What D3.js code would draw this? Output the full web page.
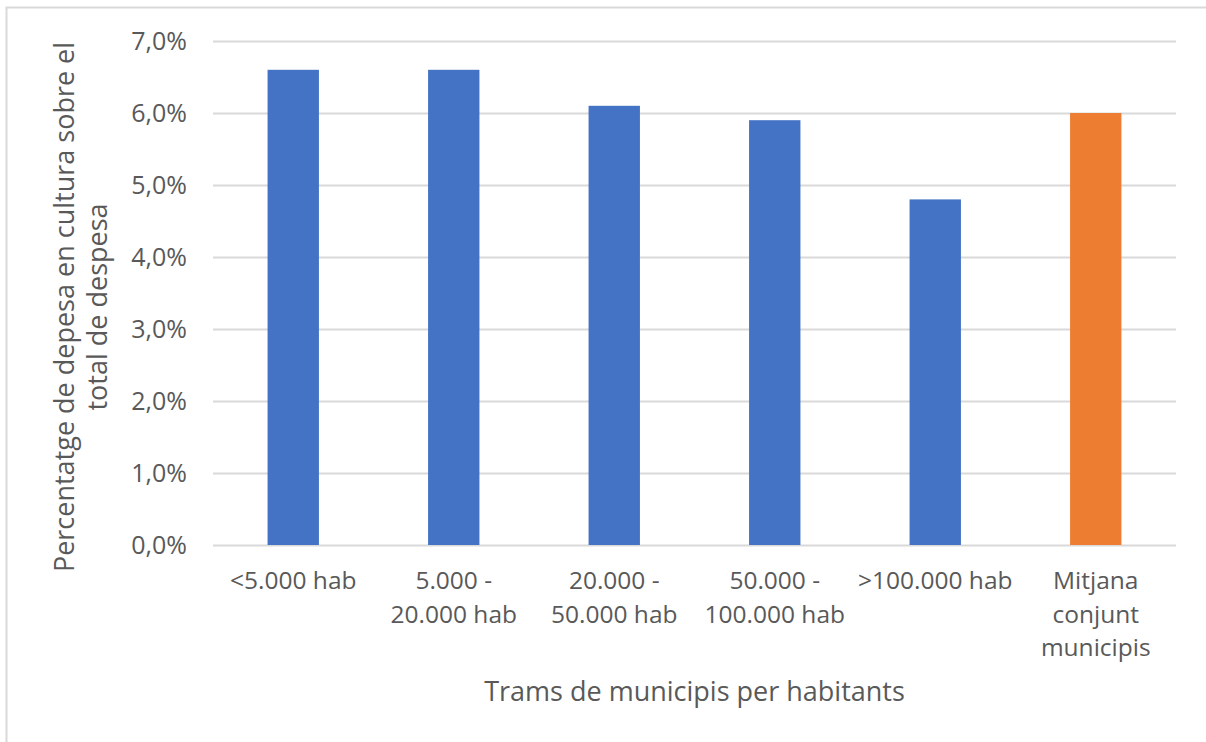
<!DOCTYPE html>
<html>
<head>
<meta charset="utf-8">
<script src="https://cdn.jsdelivr.net/npm/d3@7"></script>
<style>
  body { margin: 0; background: #fff; }
  text { font-family: "Open Sans", "Noto Sans", sans-serif; fill: #595959; }
</style>
</head>
<body>
<div id="chart"></div>
<script>
// categories (each label split into its lines)
var categories = [
  ["<5.000 hab"],
  ["5.000 -", "20.000 hab"],
  ["20.000 -", "50.000 hab"],
  ["50.000 -", "100.000 hab"],
  [">100.000 hab"],
  ["Mitjana", "conjunt", "municipis"]
];
var values = [6.6, 6.6, 6.1, 5.9, 4.8, 6.0];
var barColors = ["#4472c4", "#4472c4", "#4472c4", "#4472c4", "#4472c4", "#ed7d31"];
var yTicks = [0, 1, 2, 3, 4, 5, 6, 7];
var yTitle = ["Percentatge de depesa en cultura sobre el", "total de despesa"];
var xTitle = "Trams de municipis per habitants";

var W = 1206, H = 742;
var margin = {top: 41, right: 30, bottom: 197, left: 213},
    width = 1176 - margin.left,
    height = 545 - margin.top;

var svg = d3.select("#chart")
  .append("svg")
    .attr("width", W)
    .attr("height", H);

// chart frame (only top and left edges visible in the crop)
svg.append("rect")
  .attr("x", 6.5).attr("y", 7.5)
  .attr("width", W + 20).attr("height", H + 20)
  .attr("fill", "none")
  .attr("stroke", "#d9d9d9")
  .attr("stroke-width", 2);

var g = svg.append("g")
  .attr("transform", "translate(" + margin.left + "," + margin.top + ")");

var x = d3.scaleBand()
  .domain(d3.range(categories.length))
  .range([0, width])
  .paddingInner(0.68)
  .paddingOuter(0.34);

var y = d3.scaleLinear()
  .domain([0, 7])
  .range([height, 0]);

// gridlines + y labels
var yAxis = g.append("g")
  .call(d3.axisLeft(y)
    .tickValues(yTicks)
    .tickSize(-width)
    .tickPadding(26)
    .tickFormat(function(d) { return d.toFixed(1).replace(".", ",") + "%"; }));
yAxis.select(".domain").remove();
yAxis.selectAll(".tick line").attr("stroke", "#d9d9d9").attr("stroke-width", 2);
yAxis.selectAll(".tick text")
  .style("font-size", "25px")
  .style("fill", "#595959")
  .style("font-family", "'Open Sans', sans-serif");

// bars
g.selectAll("rect.bar")
  .data(values)
  .enter()
  .append("rect")
    .attr("class", "bar")
    .attr("x", function(d, i) { return x(i); })
    .attr("y", function(d) { return y(d); })
    .attr("width", x.bandwidth())
    .attr("height", function(d) { return height - y(d); })
    .attr("fill", function(d, i) { return barColors[i]; });

// x category labels
var xl = g.selectAll("text.cat")
  .data(categories)
  .enter()
  .append("text")
    .attr("class", "cat")
    .attr("text-anchor", "middle")
    .style("font-size", "24.5px")
    .attr("transform", function(d, i) {
      return "translate(" + (x(i) + x.bandwidth() / 2) + "," + (height + 44) + ")";
    });
xl.selectAll("tspan")
  .data(function(d) { return d; })
  .enter()
  .append("tspan")
    .attr("x", 0)
    .attr("dy", function(d, i) { return i === 0 ? 0 : 33.5; })
    .text(function(d) { return d; });

// x title
g.append("text")
  .attr("x", width / 2)
  .attr("y", 701 - margin.top)
  .attr("text-anchor", "middle")
  .style("font-size", "27px")
  .text(xTitle);

// y title
var yt = svg.append("text")
  .attr("text-anchor", "middle")
  .style("font-size", "27px")
  .attr("transform", "translate(74,307) rotate(-90)");
yt.selectAll("tspan")
  .data(yTitle)
  .enter()
  .append("tspan")
    .attr("x", 0)
    .attr("dy", function(d, i) { return i === 0 ? 0 : 33; })
    .text(function(d) { return d; });
</script>
</body>
</html>
